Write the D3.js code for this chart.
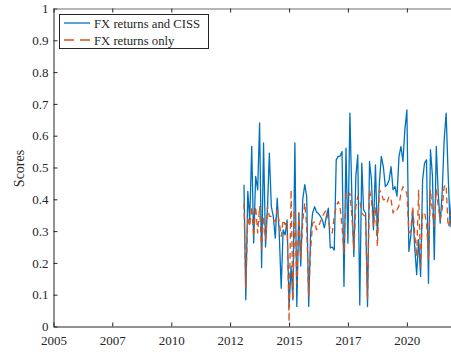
<!DOCTYPE html>
<html>
<head>
<meta charset="utf-8">
<script src="https://cdn.jsdelivr.net/npm/d3@7"></script>
<style>
  html, body { margin: 0; padding: 0; background: #fff; }
  svg { display: block; font-family: "Liberation Serif", "Times New Roman", serif; }
</style>
</head>
<body>
<svg id="chart" width="451" height="354"></svg>
<script>
// monthly scores, Feb 2013 .. Dec 2021
const months = d3.timeMonth.range(new Date(2013, 1, 1), new Date(2022, 0, 1));

const fxCiss = [
  0.446, 0.084, 0.425, 0.335, 0.566, 0.263, 0.472, 0.43, 0.64, 0.185,
  0.577, 0.25, 0.377, 0.545, 0.377, 0.346, 0.278, 0.404, 0.294, 0.12,
  0.304, 0.288, 0.335, 0.06, 0.19, 0.084, 0.577, 0.063, 0.357, 0.19,
  0.4, 0.446, 0.41, 0.063, 0.294, 0.357, 0.377, 0.36, 0.355, 0.346,
  0.335, 0.31, 0.346, 0.372, 0.247, 0.25, 0.24, 0.524, 0.535, 0.535,
  0.55, 0.126, 0.561, 0.262, 0.671, 0.40, 0.22, 0.472, 0.54, 0.068,
  0.514, 0.367, 0.357, 0.063, 0.519, 0.461, 0.304, 0.508, 0.283, 0.451,
  0.535, 0.503, 0.44, 0.446, 0.461, 0.503, 0.43, 0.44, 0.41, 0.535,
  0.566, 0.519, 0.619, 0.681, 0.236, 0.283, 0.362, 0.252, 0.163, 0.273,
  0.157, 0.461, 0.514, 0.524, 0.136, 0.556, 0.472, 0.21, 0.566, 0.419,
  0.325, 0.419, 0.587, 0.671, 0.482, 0.314, 0.43
];

const fxOnly = [
  0.388, 0.12, 0.346, 0.314, 0.377, 0.283, 0.377, 0.294, 0.377, 0.241,
  0.346, 0.273, 0.377, 0.346, 0.346, 0.335, 0.33, 0.367, 0.33, 0.283,
  0.335, 0.32, 0.33, 0.015, 0.43, 0.084, 0.367, 0.136, 0.357, 0.21,
  0.33, 0.388, 0.314, 0.094, 0.241, 0.325, 0.33, 0.304, 0.314, 0.33,
  0.346, 0.357, 0.367, 0.335, 0.304, 0.294, 0.346, 0.377, 0.393, 0.377,
  0.314, 0.23, 0.419, 0.409, 0.419, 0.346, 0.241, 0.377, 0.409, 0.398,
  0.357, 0.35, 0.346, 0.084, 0.43, 0.398, 0.314, 0.377, 0.252, 0.43,
  0.419, 0.398, 0.40, 0.39, 0.409, 0.40, 0.357, 0.37, 0.367, 0.38,
  0.419, 0.44, 0.43, 0.419, 0.294, 0.30, 0.377, 0.294, 0.22, 0.43,
  0.189, 0.357, 0.36, 0.325, 0.21, 0.43, 0.357, 0.314, 0.43, 0.38,
  0.335, 0.37, 0.44, 0.446, 0.314, 0.335, 0.38
];

const xTicks = [
  new Date(2005, 0, 1), new Date(2007, 6, 1), new Date(2010, 0, 1),
  new Date(2012, 6, 1), new Date(2015, 0, 1), new Date(2017, 6, 1),
  new Date(2020, 0, 1)
];
const yTicks = d3.range(0, 11).map(d => d / 10);
const seriesNames = ['FX returns and CISS', 'FX returns only'];

const axisColor = '#262626';
const blue = '#0072BD';
const orange = '#D95319';
const serif = '"Liberation Serif", "Times New Roman", serif';

const plotLeft = 53.5, plotTop = 8.5, plotBottom = 326.5;
// axis box runs past the right edge of the picture
const plotRight = plotLeft + 17 * 23.56;

const svg = d3.select('#chart');

const x = d3.scaleTime()
  .domain([new Date(2005, 0, 1), new Date(2022, 0, 1)])
  .range([plotLeft, plotRight]);
const y = d3.scaleLinear().domain([0, 1]).range([plotBottom, plotTop]);

svg.append('defs').append('clipPath').attr('id', 'plot')
  .append('rect')
  .attr('x', plotLeft).attr('y', plotTop)
  .attr('width', plotRight - plotLeft).attr('height', plotBottom - plotTop);

// LINES
const line = d3.line()
  .x((d, i) => x(months[i]))
  .y(d => y(d));

const plot = svg.append('g').attr('clip-path', 'url(#plot)');
plot.append('path')
  .datum(fxCiss)
  .attr('d', line)
  .attr('fill', 'none')
  .attr('stroke', blue)
  .attr('stroke-width', 1.3)
  .attr('stroke-linejoin', 'round');
plot.append('path')
  .datum(fxOnly)
  .attr('d', line)
  .attr('fill', 'none')
  .attr('stroke', orange)
  .attr('stroke-width', 1.3)
  .attr('stroke-dasharray', '6,4')
  .attr('stroke-linejoin', 'round');

// AXES (matlab style, ticks inside)
const xAxis = svg.append('g')
  .attr('transform', `translate(0,${plotBottom})`)
  .call(d3.axisBottom(x).tickValues(xTicks).tickFormat(d3.timeFormat('%Y'))
    .tickSizeInner(-4).tickSizeOuter(0).tickPadding(9.5));
const yAxis = svg.append('g')
  .attr('transform', `translate(${plotLeft},0)`)
  .call(d3.axisLeft(y).tickValues(yTicks).tickFormat(d3.format('~g'))
    .tickSizeInner(-4).tickSizeOuter(0).tickPadding(5));
const topAxis = svg.append('g')
  .attr('transform', `translate(0,${plotTop})`)
  .call(d3.axisTop(x).tickValues(xTicks).tickFormat('')
    .tickSizeInner(-4).tickSizeOuter(0));

[xAxis, yAxis, topAxis].forEach(g => {
  g.attr('font-family', serif);
  g.selectAll('.domain').attr('stroke', axisColor).attr('stroke-width', 1);
  g.selectAll('.tick line').attr('stroke', axisColor).attr('stroke-width', 1);
  g.selectAll('.tick text')
    .attr('fill', axisColor)
    .style('font-size', '13px');
});
topAxis.select('.domain').attr('stroke', '#6e6e6e');

svg.append('text')
  .attr('transform', `translate(23.5,${(plotTop + plotBottom) / 2 + 1}) rotate(-90)`)
  .attr('text-anchor', 'middle')
  .attr('fill', axisColor)
  .style('font-size', '14px')
  .text('Scores');

// LEGEND
const legend = svg.append('g');
legend.append('rect')
  .attr('x', 59.5).attr('y', 14.5)
  .attr('width', 149).attr('height', 34)
  .attr('fill', '#fff')
  .attr('stroke', axisColor)
  .attr('stroke-width', 1);

const rows = [
  { name: seriesNames[0], color: blue, dash: null, y: 23 },
  { name: seriesNames[1], color: orange, dash: '10,6', y: 40 }
];
rows.forEach(r => {
  legend.append('line')
    .attr('x1', 64).attr('x2', 90)
    .attr('y1', r.y).attr('y2', r.y)
    .attr('stroke', r.color)
    .attr('stroke-width', 1.3)
    .attr('stroke-dasharray', r.dash);
  legend.append('text')
    .attr('x', 94).attr('y', r.y + 4.5)
    .attr('fill', axisColor)
    .style('font-size', '12.7px')
    .text(r.name);
});
</script>
</body>
</html>
